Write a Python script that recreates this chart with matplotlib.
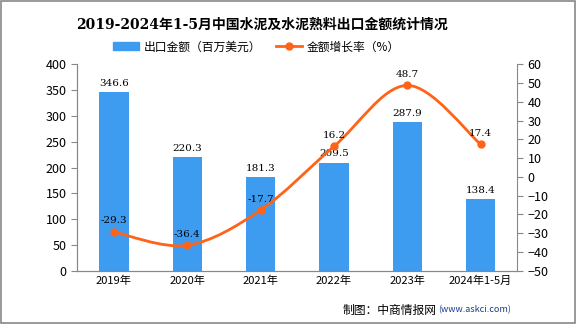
import matplotlib
matplotlib.use("Agg")
import matplotlib.pyplot as plt
from matplotlib.path import Path
from matplotlib.patches import PathPatch, Rectangle
from matplotlib.lines import Line2D
import numpy as np

plt.rcParams['font.family'] = ['Noto Sans CJK SC', 'DejaVu Sans']

years = ['2019年', '2020年', '2021年', '2022年', '2023年', '2024年1-5月']
amount = [346.6, 220.3, 181.3, 209.5, 287.9, 138.4]
growth = [-29.3, -36.4, -17.7, 16.2, 48.7, 17.4]

bar_color = '#3e9cf0'
line_color = '#ff6319'
grey = '#888888'

fig = plt.figure(figsize=(5.76, 3.24), dpi=100)
ax = fig.add_axes([0.134, 0.164, 0.764, 0.638])
ax2 = ax.twinx()

x = np.arange(len(years))
ax.bar(x, amount, width=0.4, color=bar_color, zorder=2)
for xi, v in zip(x, amount):
    ax.text(xi, v + 8, f'{v}', ha='center', va='bottom', fontsize=7.5,
            family=['DejaVu Serif'])

ax.set_xlim(-0.5, len(years) - 0.5)
ax.set_ylim(0, 400)
ax.set_yticks(range(0, 401, 50))
ax2.set_ylim(-50, 60)
ax2.set_yticks(range(-50, 61, 10))
ax.set_xticks(x)
ax.set_xticklabels(years)

# smooth curve through the growth points (Catmull-Rom as cubic bezier)
pts = np.column_stack([x, growth]).astype(float)
verts = [tuple(pts[0])]
codes = [Path.MOVETO]
for i in range(len(pts) - 1):
    p0 = pts[i - 1] if i > 0 else pts[i]
    p1, p2 = pts[i], pts[i + 1]
    p3 = pts[i + 2] if i + 2 < len(pts) else pts[i + 1]
    c1 = p1 + (p2 - p0) / 6
    c2 = p2 - (p3 - p1) / 6
    verts += [tuple(c1), tuple(c2), tuple(p2)]
    codes += [Path.CURVE4] * 3
ax2.add_patch(PathPatch(Path(verts, codes), fill=False, edgecolor=line_color, lw=2, zorder=3))
ax2.plot(x, growth, 'o', color=line_color, ms=5, zorder=4)
for xi, v in zip(x, growth):
    ax2.text(xi, v + 3.5, f'{v}', ha='center', va='bottom', fontsize=7.5,
             family=['DejaVu Serif'])

for a in (ax, ax2):
    for s in a.spines.values():
        s.set_color(grey)
    a.spines['top'].set_visible(False)
    a.tick_params(colors=grey, labelcolor='black', labelsize=9, length=4)
ax.tick_params(axis='x', length=0, labelsize=8)
ax.spines['right'].set_visible(False)

fig.text(0.455, 0.925, '2019-2024年1-5月中国水泥及水泥熟料出口金额统计情况',
         ha='center', va='center', fontsize=10, fontweight='bold',
         family=['DejaVu Serif', 'Noto Sans CJK SC'])

handles = [Rectangle((0, 0), 1, 1, color=bar_color),
           Line2D([], [], color=line_color, lw=2, marker='o', ms=5)]
fig.legend(handles, ['出口金额（百万美元）', '金额增长率（%）'], loc='center',
           bbox_to_anchor=(0.445, 0.855), ncol=2, frameon=False, fontsize=8.5,
           handlelength=2.2, columnspacing=1.2, handletextpad=0.4)

fig.text(0.758, 0.043, '制图：中商情报网', ha='right', va='center', fontsize=8.5)
fig.text(0.761, 0.043, '(www.askci.com)', ha='left', va='center', fontsize=6.5,
         color='#1a3d8f')

fig.add_artist(Rectangle((0.001, 0.002), 0.997, 0.995, transform=fig.transFigure,
                         fill=False, edgecolor=grey, lw=1.2))

fig.savefig('out.png', dpi=100)
